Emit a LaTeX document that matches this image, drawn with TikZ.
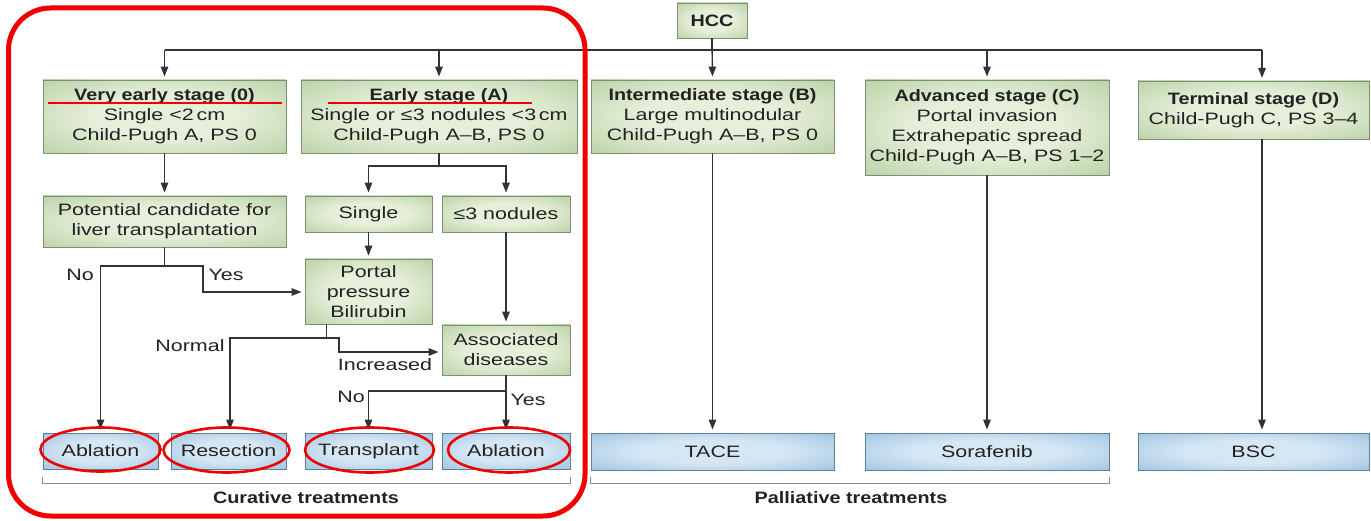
\documentclass[tikz,border=0pt]{standalone}
\usepackage{fontspec}
\setmainfont[FakeStretch=1.3, BoldFeatures={FakeStretch=1.2}]{Liberation Sans}
\usetikzlibrary{arrows.meta,calc}
\definecolor{gin}{HTML}{E6EFD9}
\definecolor{gout}{HTML}{9EBF87}
\definecolor{gline}{HTML}{7D8F74}
\definecolor{bin}{HTML}{D6E7F4}
\definecolor{bout}{HTML}{7BAED7}
\definecolor{bline}{HTML}{5F7F99}
\definecolor{conn}{HTML}{333333}
\definecolor{txt}{HTML}{222222}
\definecolor{brk}{HTML}{8A8A8A}
\definecolor{redmark}{HTML}{F00000}
\pgfdeclareradialshading{gsh}{\pgfpoint{0bp}{0bp}}{color(0bp)=(gin); color(15bp)=(gin); color(50bp)=(gout); color(72bp)=(gout)}
\pgfdeclareradialshading{bsh}{\pgfpoint{0bp}{0bp}}{color(0bp)=(bin); color(15bp)=(bin); color(50bp)=(bout); color(72bp)=(bout)}
\begin{document}
\begin{tikzpicture}[x=1pt,y=-1pt,
  every node/.style={font=\fontsize{16.5}{20}\selectfont, text=txt},
  gbox/.style={draw=gline, line width=0.9pt, shading=gsh, rectangle, inner sep=0pt, align=center},
  bbox/.style={draw=bline, line width=0.9pt, shading=bsh, rectangle, inner sep=0pt, align=center},
  conn/.style={draw=conn, line width=1.4pt},
  arr/.style={conn, -{Triangle[length=10pt,width=7.5pt]}, shorten >=3pt},
  lbl/.style={inner sep=0pt},
  redmk/.style={draw=redmark, line width=2.6pt},
  brack/.style={draw=brk, line width=1pt}
]
\useasboundingbox (0,0) rectangle (1371,521);
% green boxes
\node[gbox, minimum width=70pt, minimum height=35pt] (hcc) at (712,20.5) {\textbf{HCC}};
\node[gbox, minimum width=243pt, minimum height=73pt] (v0) at (164.5,116.5) {\textbf{Very early stage (0)}\\Single <2\,cm\\Child-Pugh A, PS 0};
\node[gbox, minimum width=276pt, minimum height=73pt] (eA) at (439,116.5) {\textbf{Early stage (A)}\\Single or ≤3 nodules <3\,cm\\Child-Pugh A–B, PS 0};
\node[gbox, minimum width=243pt, minimum height=73pt] (iB) at (712.5,116.5) {\textbf{Intermediate stage (B)}\\Large multinodular\\Child-Pugh A–B, PS 0};
\node[gbox, minimum width=244pt, minimum height=95pt] (aC) at (987,127.5) {\textbf{Advanced stage (C)}\\Portal invasion\\Extrahepatic spread\\Child-Pugh A–B, PS 1–2};
\node[gbox, minimum width=231pt, minimum height=58pt] (tD) at (1253.5,110) {\textbf{Terminal stage (D)}\\Child-Pugh C, PS 3–4};
\node[gbox, minimum width=243pt, minimum height=51pt] (pot) at (164.5,221.5) {Potential candidate for\\liver transplantation};
\node[gbox, minimum width=127pt, minimum height=36pt] (single) at (368.5,214) {Single};
\node[gbox, minimum width=128pt, minimum height=36pt] (nod) at (506,214) {≤3 nodules};
\node[gbox, minimum width=127pt, minimum height=65pt] (portal) at (368.5,291.5) {Portal\\pressure\\Bilirubin};
\node[gbox, minimum width=128pt, minimum height=50pt] (assoc) at (506,350) {Associated\\diseases};
% blue boxes
\node[bbox, minimum width=115pt, minimum height=36pt] (abl1) at (100.5,451) {Ablation};
\node[bbox, minimum width=115pt, minimum height=36pt] (res) at (228.5,451) {Resection};
\node[bbox, minimum width=127pt, minimum height=36pt] (trans) at (368.5,451) {Transplant};
\node[bbox, minimum width=128pt, minimum height=36pt] (abl2) at (506,451) {Ablation};
\node[bbox, minimum width=243pt, minimum height=37pt] (tace) at (712.5,451.5) {TACE};
\node[bbox, minimum width=244pt, minimum height=37pt] (sora) at (987,451.5) {Sorafenib};
\node[bbox, minimum width=231pt, minimum height=37pt] (bsc) at (1253.5,451.5) {BSC};
% junction coordinates
\coordinate (busL) at (164.5,50);
\coordinate (busR) at (1262,50);
\coordinate (tDin) at (1262,81);
\coordinate (tDout) at (1262,139);
\coordinate (eAj) at (439,166);
\coordinate (potj) at (164.5,266);
\coordinate (potL) at (100.5,266);
\coordinate (potR) at (203,266);
\coordinate (potY) at (203,292);
\coordinate (porj) at (326.5,338);
\coordinate (porL) at (230,338);
\coordinate (porR) at (339,338);
\coordinate (porI) at (339,352);
\coordinate (assj) at (506,391);
% connectors
\draw[conn] (hcc.south) -- (hcc.south |- busL);
\draw[conn] (busL) -- (busR);
\draw[arr] (busL) -- (v0.north);
\draw[arr] (eA.north |- busL) -- (eA.north);
\draw[arr] (hcc.south) -- (iB.north);
\draw[arr] (aC.north |- busL) -- (aC.north);
\draw[arr] (busR) -- (tDin);
\draw[arr] (v0.south) -- (pot.north);
\draw[conn] (eA.south) -- (eAj);
\draw[arr] (eAj) -| (single.north);
\draw[arr] (eAj) -| (nod.north);
\draw[arr] (single.south) -- (portal.north);
\draw[conn] (pot.south) -- (potj);
\draw[arr] (potj) -| (abl1.north);
\draw[arr] (potj) -- (potR) -- (potY) -- (portal.west |- potY);
\draw[conn] (portal.south -| porj) -- (porj);
\draw[arr] (porj) -| (res.north -| porL);
\draw[arr] (porj) -- (porR) -- (porI) -- (assoc.west |- porI);
\draw[arr] (nod.south) -- (assoc.north);
\draw[arr] (assoc.south) -- (abl2.north);
\draw[arr] (assj) -| (trans.north);
\draw[arr] (iB.south) -- (tace.north);
\draw[arr] (aC.south) -- (sora.north);
\draw[arr] (tDout) -- (bsc.north -| tDout);
% labels
\node[lbl] (lno1) at (80,275) {No};
\node[lbl] (lyes1) at (226,275) {Yes};
\node[lbl] (lnorm) at (190,346) {Normal};
\node[lbl] (linc) at (385,365) {Increased};
\node[lbl] (lno2) at (351,397) {No};
\node[lbl] (lyes2) at (528,400) {Yes};
% brackets
\draw[brack] (abl1.south west |- 0,477) -- (abl1.south west |- 0,483) -- (abl2.south east |- 0,483) -- (abl2.south east |- 0,477);
\draw[brack] (tace.south west |- 0,477) -- (tace.south west |- 0,483) -- (sora.south east |- 0,483) -- (sora.south east |- 0,477);
\node[lbl] (cur) at (306,498) {\textbf{Curative treatments}};
\node[lbl] (pal) at (851,498) {\textbf{Palliative treatments}};
% red annotations
\draw[draw=redmark, line width=5pt, rounded corners=42pt] (8.5,8) rectangle (585,516);
\draw[redmk] (48,103) -- (282,103);
\draw[redmk] (328,103) -- (532,103);
\draw[redmk] (abl1.center) ++(0,-1.5) ellipse [x radius=60, y radius=22];
\draw[redmk] (res.center) ++(-2,-1) ellipse [x radius=63, y radius=22.5];
\draw[redmk] (trans.center) ++(1,-1) ellipse [x radius=64.5, y radius=22.5];
\draw[redmk] (abl2.center) ++(3,-1) ellipse [x radius=61, y radius=22.5];
\end{tikzpicture}
\end{document}
